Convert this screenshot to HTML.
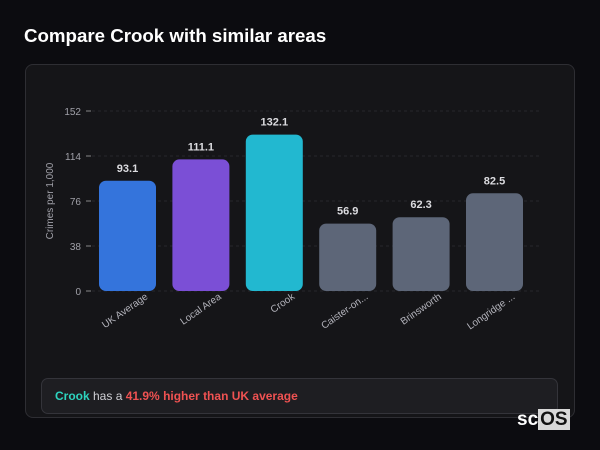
<!DOCTYPE html>
<html><head><meta charset="utf-8"><style>
body{margin:0;width:600px;height:450px;background:#0c0c10;font-family:"Liberation Sans",sans-serif;position:relative;overflow:hidden}
.t{position:absolute;left:24px;top:25px;color:#fff;font-size:18.7px;font-weight:bold}
.card{position:absolute;left:25px;top:64px;width:550px;height:354px;background:#151518;border:1px solid #2e2e33;border-radius:8px;box-sizing:border-box}
.msg{position:absolute;left:41px;top:378px;width:517px;height:36px;background:#1e1e22;border:1px solid #34343a;border-radius:7px;box-sizing:border-box;font-size:12px;color:#cfcfd4;line-height:34px;padding-left:13px}
.logo{position:absolute;left:517px;top:409px;color:#fff;font-size:19px;font-weight:bold}
.logo span{background:#d8d8d8;color:#111;padding:0 2px}
</style></head><body>
<div class="t">Compare Crook with similar areas</div>
<div class="card"></div>
<svg id="c" width="600" height="450" style="position:absolute;left:0;top:0"></svg>
<div class="msg"><b style="color:#2dd4bf">Crook</b> has a <b style="color:#f05252">41.9% higher than UK average</b></div>
<div class="logo">sc<span>OS</span></div>
<script>
const categories=["UK Average","Local Area","Crook","Caister-on...","Brinsworth","Longridge ..."];
const values=[93.1,111.1,132.1,56.9,62.3,82.5];
const colors=["#3474dc","#7b4fd6","#22b8d0","#5d6678","#5d6678","#5d6678"];
const ticks=[0,38,76,114,152];
const svg=document.getElementById('c');const NS="http://www.w3.org/2000/svg";
const y0=291,y1=111,vmax=152,x0=90.8,band=73.4,bw=57;
const y=v=>y0-(v/vmax)*(y0-y1);const x=i=>x0+band*i+band/2;
function el(t,a,txt){const e=document.createElementNS(NS,t);for(const k in a)e.setAttribute(k,a[k]);if(txt!=null)e.textContent=txt;svg.appendChild(e);return e;}
ticks.forEach(t=>{
 const g=el('line',{x1:92,x2:540,y1:y(t),y2:y(t),stroke:'#26262b','stroke-dasharray':'3,3'});
 
 const m=el('line',{x1:86,x2:91,y1:y(t),y2:y(t),stroke:'#888'});
 
 const l=el('text',{x:81,y:y(t)+4,'text-anchor':'end',fill:'#a0a0a8','font-size':'10'},t);
 
});
const yt=el('text',{x:53,y:201,'text-anchor':'middle',fill:'#a0a0a8','font-size':'10',transform:'rotate(-90 53 201)'},'Crimes per 1,000');

values.forEach((v,i)=>{
 const b=el('rect',{x:x(i)-bw/2,y:y(v),width:bw,height:y0-y(v),rx:7,fill:colors[i]});
 
 const lv=el('text',{x:x(i),y:y(v)-9,'text-anchor':'middle',fill:'#dcdce0','font-size':'11','font-weight':'bold'},v.toFixed(1));
 
 const cx=x(i)+21,cy=y0+7;
 const cl=el('text',{x:cx,y:cy,'text-anchor':'end',fill:'#b4b4bc','font-size':'10',transform:`rotate(-35 ${cx} ${cy})`},categories[i]);
 
});
</script>
</body></html>
